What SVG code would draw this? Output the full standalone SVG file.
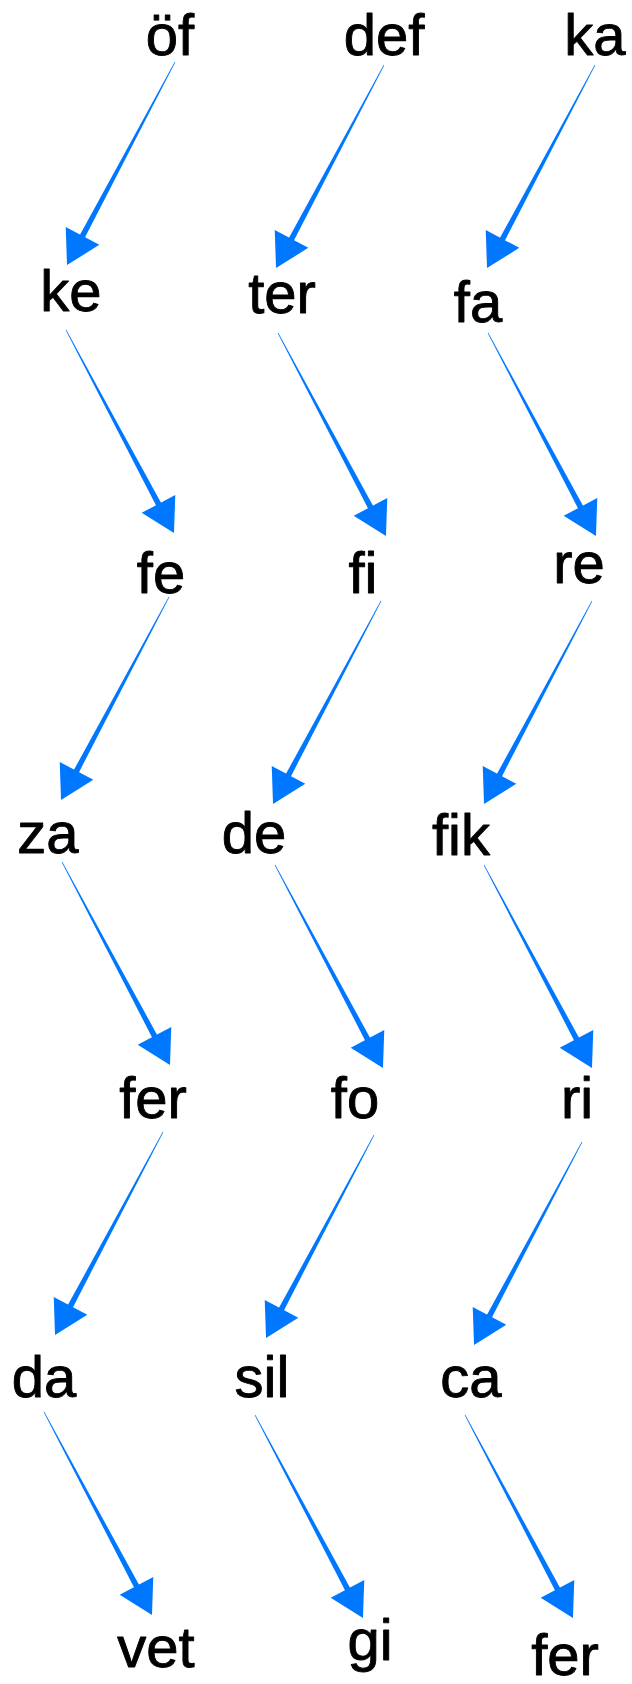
<svg xmlns="http://www.w3.org/2000/svg" xmlns:xlink="http://www.w3.org/1999/xlink" width="632" height="1684" viewBox="0 0 632 1684">
<style>
.lbl{font-family:"Liberation Sans",Arial,sans-serif;font-size:58px;fill:#000;stroke:#000;stroke-width:0.9px;stroke-linejoin:round;text-anchor:middle}
.arr{fill:#0077ff}
</style>
<defs>
<g id="arrow" class="arr">
<polygon points="0,-0.3 198,-2.8 198,2.8 0,0.3"/>
<polygon points="197,-19 230,0 197,19"/>
</g>
</defs>
<rect width="632" height="1684" fill="#fff"/>
<g id="connectors">
<use href="#arrow" transform="translate(175,62) rotate(118)"/>
<use href="#arrow" transform="translate(66,330) rotate(62)"/>
<use href="#arrow" transform="translate(169,597) rotate(118)"/>
<use href="#arrow" transform="translate(62,862) rotate(62)"/>
<use href="#arrow" transform="translate(163,1132) rotate(118)"/>
<use href="#arrow" transform="translate(44,1412) rotate(62)"/>
<use href="#arrow" transform="translate(384,65) rotate(118)"/>
<use href="#arrow" transform="translate(278,333) rotate(62)"/>
<use href="#arrow" transform="translate(381,601) rotate(118)"/>
<use href="#arrow" transform="translate(275,865) rotate(62)"/>
<use href="#arrow" transform="translate(374,1135) rotate(118)"/>
<use href="#arrow" transform="translate(255,1415) rotate(62)"/>
<use href="#arrow" transform="translate(595,65) rotate(118)"/>
<use href="#arrow" transform="translate(488,333) rotate(62)"/>
<use href="#arrow" transform="translate(592,601) rotate(118)"/>
<use href="#arrow" transform="translate(484,865) rotate(62)"/>
<use href="#arrow" transform="translate(582,1142) rotate(118)"/>
<use href="#arrow" transform="translate(465,1415) rotate(62)"/>
</g>
<g id="n-of"><text class="lbl" x="170" y="55">öf</text></g>
<g id="n-def"><text class="lbl" x="384" y="55">def</text></g>
<g id="n-ka"><text class="lbl" x="595" y="55">ka</text></g>
<g id="n-ke"><text class="lbl" x="71" y="311">ke</text></g>
<g id="n-ter"><text class="lbl" x="282" y="313">ter</text></g>
<g id="n-fa"><text class="lbl" x="478" y="322">fa</text></g>
<g id="n-fe"><text class="lbl" x="161" y="593">fe</text></g>
<g id="n-fi"><text class="lbl" x="363" y="593">fi</text></g>
<g id="n-re"><text class="lbl" x="579" y="583">re</text></g>
<g id="n-za"><text class="lbl" x="48" y="853">za</text></g>
<g id="n-de"><text class="lbl" x="254" y="853">de</text></g>
<g id="n-fik"><text class="lbl" x="461" y="855">fik</text></g>
<g id="n-fer1"><text class="lbl" x="153" y="1118">fer</text></g>
<g id="n-fo"><text class="lbl" x="355" y="1118">fo</text></g>
<g id="n-ri"><text class="lbl" x="577" y="1118">ri</text></g>
<g id="n-da"><text class="lbl" x="44" y="1397">da</text></g>
<g id="n-sil"><text class="lbl" x="262" y="1397">sil</text></g>
<g id="n-ca"><text class="lbl" x="471" y="1397">ca</text></g>
<g id="n-vet"><text class="lbl" x="156" y="1667">vet</text></g>
<g id="n-gi"><text class="lbl" x="370" y="1660">gi</text></g>
<g id="n-fer2"><text class="lbl" x="565" y="1675">fer</text></g>
</svg>
